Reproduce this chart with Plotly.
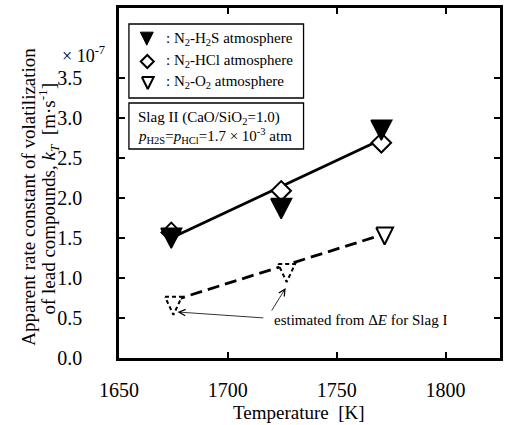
import plotly.graph_objects as go

# ---------------- data ----------------
T_H2S = [1674, 1724.5, 1770.5]
k_H2S = [1.54, 1.91, 2.89]
T_HCl = [1674, 1724.5, 1770.5]
k_HCl = [1.57, 2.09, 2.69]
T_O2 = [1675, 1727, 1772]
k_O2 = [0.69, 1.10, 1.56]
O2_estimated = [True, True, False]

fit_solid_T = [1674, 1770.5]
fit_solid_k = [1.50, 2.73]
fit_dash_T = [1675, 1772]
fit_dash_k = [0.72, 1.55]

x_ticks = [1650, 1700, 1750, 1800]
y_ticks = [0.0, 0.5, 1.0, 1.5, 2.0, 2.5, 3.0, 3.5]

# ---------------- layout geometry ----------------
W, H = 505, 425
ML, MR, MT, MB = 119, 2, 8, 67
XR = [1650, 1825]
YR = [0, 4.375]
PW, PH = W - ML - MR, H - MT - MB
SX = PW / (XR[1] - XR[0])
SY = PH / (YR[1] - YR[0])
FONT = "Liberation Serif, Times New Roman, serif"


def px2x(px):
    return XR[0] + (px - ML) / SX


def px2y(py):
    return YR[0] + (MT + PH - py) / SY


def px2paper(px, py):
    return (px - ML) / PW, (MT + PH - py) / PH


def tri_down(xs, ys, w, h):
    X, Y = [], []
    for x, y in zip(xs, ys):
        dx = w / 2 / SX
        top = y + (h / 3) / SY
        bot = y - (2 * h / 3) / SY
        X += [x - dx, x + dx, x, x - dx, None]
        Y += [top, top, bot, top, None]
    return X, Y


fig = go.Figure()

# fit lines
fig.add_trace(go.Scatter(x=fit_solid_T, y=fit_solid_k, mode="lines",
                         line=dict(color="black", width=2.8), hoverinfo="skip"))
fig.add_trace(go.Scatter(x=fit_dash_T, y=fit_dash_k, mode="lines",
                         line=dict(color="black", width=2.8, dash="12px,6px"),
                         hoverinfo="skip"))

# diamonds (N2-HCl)
fig.add_trace(go.Scatter(x=T_HCl, y=k_HCl, mode="markers",
                         marker=dict(symbol="diamond", size=15, color="white",
                                     line=dict(color="black", width=2))))

# filled triangles (N2-H2S)
tx, ty = tri_down(T_H2S, k_H2S, 21, 20)
fig.add_trace(go.Scatter(x=tx, y=ty, mode="lines", fill="toself",
                         fillcolor="black", line=dict(color="black", width=1.5)))

# open triangles (N2-O2): measured solid, estimated dashed
Tm = [t for t, e in zip(T_O2, O2_estimated) if not e]
km = [k for k, e in zip(k_O2, O2_estimated) if not e]
Te = [t for t, e in zip(T_O2, O2_estimated) if e]
ke = [k for k, e in zip(k_O2, O2_estimated) if e]
tx, ty = tri_down(Tm, km, 17, 17)
fig.add_trace(go.Scatter(x=tx, y=ty, mode="lines", fill="toself",
                         fillcolor="white", line=dict(color="black", width=2)))
tx, ty = tri_down(Te, ke, 17, 18)
fig.add_trace(go.Scatter(x=tx, y=ty, mode="lines", fill="toself",
                         fillcolor="white",
                         line=dict(color="black", width=2, dash="4px,3px")))

# ---------------- legend box (manual) ----------------
shapes = []
for (x0, y0, x1, y1) in [(129, 24, 305, 98), (129, 103, 305, 149)]:
    a0, b0 = px2paper(x0, y1)
    a1, b1 = px2paper(x1, y0)
    shapes.append(dict(type="rect", xref="paper", yref="paper",
                       x0=a0, y0=b0, x1=a1, y1=b1,
                       line=dict(color="black", width=1.3),
                       fillcolor="white", layer="below"))

annotations = []

# legend symbols
lx, ly = tri_down([px2x(147)], [px2y(36.5)], 13, 13)
fig.add_trace(go.Scatter(x=lx, y=ly, mode="lines", fill="toself",
                         fillcolor="black", line=dict(color="black", width=1)))
fig.add_trace(go.Scatter(x=[px2x(147.5)], y=[px2y(61.5)], mode="markers",
                         marker=dict(symbol="diamond", size=10, color="white",
                                     line=dict(color="black", width=2))))
lx, ly = tri_down([px2x(148)], [px2y(81)], 12, 12)
fig.add_trace(go.Scatter(x=lx, y=ly, mode="lines", fill="toself",
                         fillcolor="white", line=dict(color="black", width=2)))

leg_texts = [
    (": N<sub>2</sub>-H<sub>2</sub>S atmosphere", 38.5),
    (": N<sub>2</sub>-HCl atmosphere", 61),
    (": N<sub>2</sub>-O<sub>2</sub> atmosphere", 82),
]
for txt, py in leg_texts:
    a, b = px2paper(164, py)
    annotations.append(dict(text=txt, x=a, y=b, xref="paper", yref="paper",
                            xanchor="left", yanchor="middle", showarrow=False,
                            font=dict(family=FONT, size=15, color="black")))

for txt, py in [("Slag II (CaO/SiO<sub>2</sub>=1.0)", 118),
                ("<i>p</i><sub>H2S</sub>=<i>p</i><sub>HCl</sub>=1.7 × 10<sup>-3</sup> atm", 136)]:
    a, b = px2paper(136, py)
    annotations.append(dict(text=txt, x=a, y=b, xref="paper", yref="paper",
                            xanchor="left", yanchor="middle", showarrow=False,
                            font=dict(family=FONT, size=15, color="black")))

# estimated annotation
a, b = px2paper(273, 320)
annotations.append(dict(text="estimated from Δ<i>E</i> for Slag I", x=a, y=b,
                        xref="paper", yref="paper", xanchor="left",
                        yanchor="middle", showarrow=False,
                        font=dict(family=FONT, size=15, color="black")))
for (hx, hy, tx_, ty_) in [(178, 312, 266, 318), (287, 288, 272, 312)]:
    annotations.append(dict(text="", x=px2x(hx), y=px2y(hy), ax=px2x(tx_),
                            ay=px2y(ty_), xref="x", yref="y", axref="x",
                            ayref="y", showarrow=True, arrowhead=5,
                            arrowsize=1.6, arrowwidth=0.8, arrowcolor="black"))

# x10^-7
a, b = px2paper(107, 54)
annotations.append(dict(text="× 10<sup>-7</sup>", x=a, y=b, xref="paper",
                        yref="paper", xanchor="right", yanchor="middle",
                        showarrow=False,
                        font=dict(family=FONT, size=18, color="black")))

# axis titles
a, b = px2paper(300, 413)
annotations.append(dict(text="Temperature  [K]", x=a, y=b, xref="paper",
                        yref="paper", xanchor="center", yanchor="middle",
                        showarrow=False,
                        font=dict(family=FONT, size=19, color="black")))
a, b = px2paper(27, 197)
annotations.append(dict(text="Apparent rate constant of volatilization",
                        x=a, y=b, xref="paper", yref="paper", textangle=-90,
                        xanchor="center", yanchor="middle", showarrow=False,
                        font=dict(family=FONT, size=19, color="black")))
a, b = px2paper(47, 199)
annotations.append(dict(text="of lead compounds, <i>k<sub>T</sub></i>  [m·s<sup>-1</sup>]",
                        x=a, y=b, xref="paper", yref="paper", textangle=-90,
                        xanchor="center", yanchor="middle", showarrow=False,
                        font=dict(family=FONT, size=19, color="black")))

axis_common = dict(showgrid=False, zeroline=False, showline=True,
                   linecolor="black", linewidth=2.5, mirror="ticks",
                   ticks="inside", ticklen=6, tickwidth=2, tickcolor="black",
                   tickfont=dict(family=FONT, size=20, color="black"))

fig.update_layout(
    width=W, height=H,
    margin=dict(l=ML, r=MR, t=MT, b=MB),
    paper_bgcolor="white", plot_bgcolor="white",
    font=dict(family=FONT, color="black"),
    showlegend=False,
    xaxis=dict(range=XR, tickvals=x_ticks, ticktext=[str(v) for v in x_ticks],
               ticklabelstandoff=12, **axis_common),
    yaxis=dict(range=YR, tickvals=y_ticks,
               ticktext=[f"{v:.1f}" for v in y_ticks],
               ticklabelstandoff=30, **axis_common),
    shapes=shapes,
    annotations=annotations,
)

fig.write_html("out.html", config={"displayModeBar": False},
               post_script="document.body.style.margin='0';document.body.style.padding='0';")
